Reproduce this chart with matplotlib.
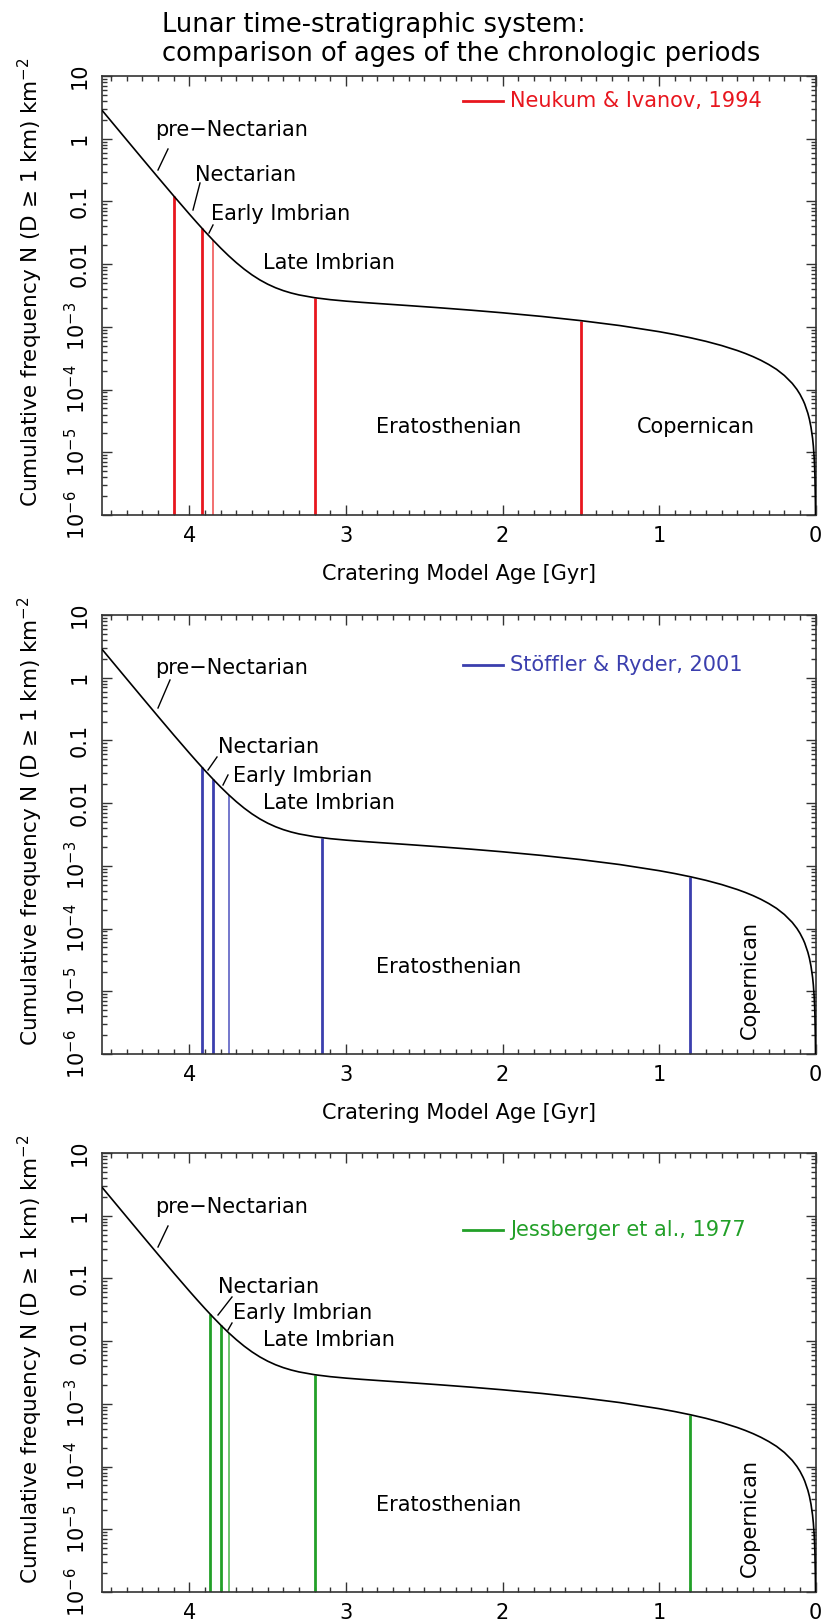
import matplotlib
matplotlib.use("Agg")
import matplotlib.pyplot as plt
from matplotlib.lines import Line2D
from matplotlib.ticker import FixedLocator, FixedFormatter, MultipleLocator, LogLocator, NullFormatter

plt.rcParams["font.family"] = ["DejaVu Sans"]

# ── chronology curve: model age [Gyr] vs N(D>=1 km) [km^-2] ──
age = [4.60, 4.50, 4.40, 4.30, 4.20, 4.10, 4.00, 3.95, 3.90, 3.85, 3.80, 3.75, 3.70,
       3.65, 3.60, 3.55, 3.50, 3.45, 3.40, 3.35, 3.30, 3.20, 3.10, 3.00, 2.90, 2.80,
       2.60, 2.40, 2.20, 2.00, 1.75, 1.50, 1.25, 1.00, 0.90, 0.80, 0.70, 0.60, 0.50,
       0.45, 0.40, 0.35, 0.30, 0.25, 0.20, 0.15, 0.12, 0.10, 0.08, 0.07, 0.05, 0.04,
       0.03, 0.02, 0.015, 0.01, 0.007, 0.005, 0.002, 0.001]
n_cum = [3.80, 1.905, 0.9545, 0.4791, 0.2412, 0.1223, 0.0628, 0.04536, 0.0330, 0.02426,
         0.01805, 0.01365, 0.01054, 0.008318, 0.006736, 0.005605, 0.004793, 0.004206,
         0.003779, 0.003465, 0.003230, 0.002914, 0.002714, 0.002572, 0.002459, 0.002361,
         0.002183, 0.002012, 0.001844, 0.001676, 0.001467, 0.001257, 0.001048, 0.000838,
         0.000754, 0.000670, 0.000587, 0.000503, 0.000419, 0.000377, 0.000335, 0.000293,
         0.000251, 0.000210, 0.0001676, 0.0001257, 0.0001006, 8.38e-5, 6.70e-5, 5.87e-5,
         4.19e-5, 3.35e-5, 2.51e-5, 1.68e-5, 1.26e-5, 8.38e-6, 5.87e-6, 4.19e-6, 1.68e-6,
         8.4e-7]

# ── period boundaries of each source [Gyr] and the curve value where each line stops ──
ni_ages = [4.10, 3.92, 3.85, 3.20, 1.50]
ni_tops = [0.1223, 0.0375, 0.0243, 0.00291, 0.00126]
sr_ages = [3.92, 3.85, 3.75, 3.15, 0.80]
sr_tops = [0.0375, 0.0243, 0.0137, 0.00280, 0.00067]
je_ages = [3.87, 3.80, 3.75, 3.20, 0.80]
je_tops = [0.0274, 0.0181, 0.0137, 0.00291, 0.00067]

sources = ["Neukum & Ivanov, 1994", "Stöffler & Ryder, 2001", "Jessberger et al., 1977"]
colors = ["#e8161e", "#3b3fae", "#22a028"]
thin_colors = ["#f27070", "#7478cc", "#70c470"]

xticks = [4, 3, 2, 1, 0]
yticks = [10, 1, 0.1, 0.01, 1e-3, 1e-4, 1e-5, 1e-6]
ytick_labels = ["10", "1", "0.1", "0.01", "10$^{-3}$", "10$^{-4}$", "10$^{-5}$", "10$^{-6}$"]

W, H = 821, 1620
AX_L, AX_R, AX_H = 101.7, 815.7, 439
panel_tops = [76, 615, 1153]
FS = 15

fig = plt.figure(figsize=(W / 100, H / 100), dpi=100)

fig.text(162 / W, 1 - 25 / H, "Lunar time-stratigraphic system:", fontsize=18.5,
         ha="left", va="center")
fig.text(162 / W, 1 - 54 / H, "comparison of ages of the chronologic periods", fontsize=18.5,
         ha="left", va="center")

# label layout, pixels relative to the panel's top-left corner of the figure
label_pos = [
    {"pre−Nectarian": (155, 54), "Nectarian": (195, 99), "Early Imbrian": (211, 138),
     "Late Imbrian": (263, 187), "Eratosthenian": (376, 351), "Copernican": (637, 351)},
    {"pre−Nectarian": (155, 53), "Nectarian": (218, 132), "Early Imbrian": (233, 161),
     "Late Imbrian": (263, 188), "Eratosthenian": (376, 352)},
    {"pre−Nectarian": (155, 54), "Nectarian": (218, 134), "Early Imbrian": (233, 160),
     "Late Imbrian": (263, 187), "Eratosthenian": (376, 352)},
]
leaders = [
    [((168, 73), (158, 94)), ((200, 107), (193, 134)), ((213, 149), (209, 157))],
    [((170, 65), (158, 93)), ((217, 142), (208, 155)), ((228, 160), (223, 170))],
    [((168, 73), (158, 94)), ((232, 144), (218, 162)), ((232, 170), (228, 177))],
]
legend_y = [25, 50, 77]

panel_data = [(ni_ages, ni_tops), (sr_ages, sr_tops), (je_ages, je_tops)]


def to_ax(px, py):
    return (px - AX_L) / (AX_R - AX_L), 1 - py / AX_H


for i, top in enumerate(panel_tops):
    ax = fig.add_axes([AX_L / W, 1 - (top + AX_H) / H, (AX_R - AX_L) / W, AX_H / H])
    ages, tops = panel_data[i]

    thick = [j for j in range(len(ages)) if j != 2]
    ax.vlines([ages[j] for j in thick], 1e-6, [tops[j] for j in thick],
              color=colors[i], lw=2.0, zorder=2)
    ax.vlines([ages[2]], 1e-6, [tops[2]], color=thin_colors[i], lw=1.4, zorder=2)
    ax.plot(age, n_cum, color="black", lw=1.2, zorder=3)

    ax.set_yscale("log")
    ax.set_xlim(4.56, 0)
    ax.set_ylim(1e-6, 10)

    ax.xaxis.set_major_locator(FixedLocator(xticks))
    ax.xaxis.set_minor_locator(MultipleLocator(0.1))
    ax.yaxis.set_major_locator(FixedLocator(yticks))
    ax.yaxis.set_major_formatter(FixedFormatter(ytick_labels))
    ax.yaxis.set_minor_locator(LogLocator(base=10, subs=range(2, 10)))
    ax.yaxis.set_minor_formatter(NullFormatter())
    ax.tick_params(which="both", direction="in", top=True, right=True, labelsize=FS,
                   width=1.0, color="#333333")
    ax.tick_params(which="major", length=7)
    ax.tick_params(which="minor", length=3.5)
    ax.tick_params(axis="x", pad=8)
    ax.tick_params(axis="y", pad=9)
    for lab in ax.get_yticklabels():
        lab.set_rotation(90)
        lab.set_va("center")
    for sp in ax.spines.values():
        sp.set_linewidth(1.2)
        sp.set_color("#333333")

    ax.set_ylabel("Cumulative frequency N (D ≥ 1 km) km$^{-2}$", fontsize=15.5)
    ax.yaxis.set_label_coords((45 - AX_L) / (AX_R - AX_L), 0.53)
    if i < 2:
        ax.set_xlabel("Cratering Model Age [Gyr]", fontsize=FS)
        ax.xaxis.set_label_coords(0.5, -(564 - 515) / AX_H)

    for name, (px, py) in label_pos[i].items():
        ax.text(*to_ax(px, py), name, transform=ax.transAxes, fontsize=FS,
                ha="left", va="center")
    if i > 0:
        ax.text(*to_ax(750, 365), "Copernican", transform=ax.transAxes, fontsize=FS,
                rotation=90, ha="center", va="center")
    for (p0, p1) in leaders[i]:
        a0, a1 = to_ax(*p0), to_ax(*p1)
        ax.add_line(Line2D([a0[0], a1[0]], [a0[1], a1[1]], transform=ax.transAxes,
                           color="black", lw=1.0))

    l0, l1 = to_ax(463, legend_y[i]), to_ax(503, legend_y[i])
    ax.add_line(Line2D([l0[0], l1[0]], [l0[1], l1[1]], transform=ax.transAxes,
                       color=colors[i], lw=2.0))
    ax.text(*to_ax(510, legend_y[i]), sources[i], transform=ax.transAxes, fontsize=FS,
            color=colors[i], ha="left", va="center")

fig.savefig("out.png", dpi=100)
